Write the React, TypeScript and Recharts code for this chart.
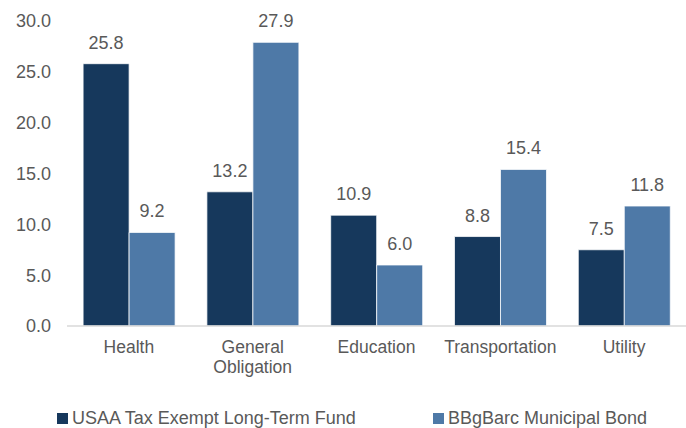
import React from "react";
import { BarChart, Bar, XAxis, YAxis, LabelList } from "recharts";

const CATEGORIES = ["Health", "General Obligation", "Education", "Transportation", "Utility"];
const FUND_VALUES = [25.8, 13.2, 10.9, 8.8, 7.5];
const INDEX_VALUES = [9.2, 27.9, 6.0, 15.4, 11.8];
const SERIES_NAMES = ["USAA Tax Exempt Long-Term Fund", "BBgBarc Municipal Bond"];
const Y_TICKS = [0, 5, 10, 15, 20, 25, 30];

const DARK = "#16385C";
const LIGHT = "#4E79A7";
const TEXT = "#595959";
const FONT = '"Liberation Sans", Arial, sans-serif';

const data = CATEGORIES.map((name, i) => ({ name, fund: FUND_VALUES[i], index: INDEX_VALUES[i] }));

// split multi-word labels onto separate lines like the original
const CategoryTick = ({ x, y, payload }: any) => {
  const lines: string[] = String(payload.value).split(" ");
  return (
    <text x={x} y={y} textAnchor="middle" fill={TEXT} fontSize={17.5} fontFamily={FONT}>
      {lines.map((l, i) => (
        <tspan key={i} x={x} dy={i === 0 ? 19 : 20}>
          {l}
        </tspan>
      ))}
    </text>
  );
};

const fmt = (v: any) => Number(v).toFixed(1);

export default function App() {
  return (
    <div style={{ position: "absolute", left: 0, top: 0, width: 686, height: 428, background: "#fff" }}>
      <BarChart
        width={686}
        height={428}
        data={data}
        margin={{ top: 21, right: 0, left: 0, bottom: 42 }}
        barGap={0}
        barCategoryGap="13%"
      >
        <XAxis
          dataKey="name"
          height={60}
          tickLine={false}
          axisLine={{ stroke: "#D9D9D9", strokeWidth: 1.5 }}
          tick={<CategoryTick />}
          interval={0}
        />
        <YAxis
          width={67}
          domain={[0, 30]}
          ticks={Y_TICKS}
          tickFormatter={fmt}
          axisLine={false}
          tickLine={false}
          tickMargin={10}
          tick={{ fill: TEXT, fontSize: 18, fontFamily: FONT }}
        />
        <Bar dataKey="fund" fill={DARK} stroke="#fff" strokeWidth={0.75} isAnimationActive={false}>
          <LabelList dataKey="fund" position="top" offset={15} formatter={fmt} fill={TEXT} fontSize={18} fontFamily={FONT} />
        </Bar>
        <Bar dataKey="index" fill={LIGHT} stroke="#fff" strokeWidth={0.75} isAnimationActive={false}>
          <LabelList dataKey="index" position="top" offset={15} formatter={fmt} fill={TEXT} fontSize={18} fontFamily={FONT} />
        </Bar>
      </BarChart>
      <div
        style={{
          position: "absolute",
          top: 407,
          left: 57,
          display: "flex",
          fontFamily: FONT,
          fontSize: 18,
          color: TEXT,
          lineHeight: "22px",
        }}
      >
        {SERIES_NAMES.map((s, i) => (
          <div key={s} style={{ display: "flex", alignItems: "center", width: i === 0 ? 376 : undefined }}>
            <span style={{ display: "inline-block", width: 11, height: 11, background: i === 0 ? DARK : LIGHT, marginRight: 4 }} />
            <span>{s}</span>
          </div>
        ))}
      </div>
    </div>
  );
}
